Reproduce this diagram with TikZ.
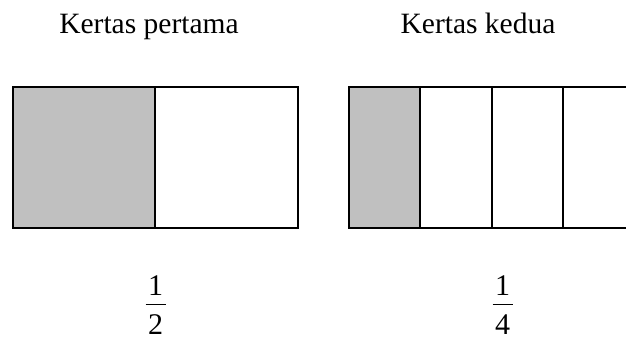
\documentclass[tikz,border=0pt]{standalone}
\usepackage{fontspec}
\setmainfont{Liberation Serif}
\begin{document}
\begin{tikzpicture}[x=1pt,y=-1pt,
  sheet/.style={draw=black,line width=1.8pt},
  shaded/.style={fill=shadegrey},
  title/.style={anchor=base,inner sep=0pt,font=\fontsize{29.5}{34}\selectfont},
  digit/.style={anchor=base,inner sep=0pt,font=\fontsize{30}{34}\selectfont},
  fracbar/.style={line width=1.2pt}]
\definecolor{shadegrey}{RGB}{192,192,192}
\useasboundingbox (0,0) rectangle (626,339);
\clip (0,0) rectangle (626,339);

% titles
\node[title] (t1) at (149,33.3) {Kertas pertama};
\node[title] (t2) at (478,33.3) {Kertas kedua};

% first sheet: halves
\fill[shaded] (13,87) rectangle (155,228);
\draw[sheet] (13,87) rectangle (298,228);
\draw[sheet] (155,87) -- (155,228);

% second sheet: quarters
\fill[shaded] (349,87) rectangle (420,228);
\draw[sheet] (349,87) rectangle (634,228);
\foreach \xx in {420,492,563}
  \draw[sheet] (\xx,87) -- (\xx,228);

% fraction one half
\node[digit] (n1) at (155.5,295) {1};
\node[digit] (d1) at (155.5,334.5) {2};
\coordinate (b1l) at (145.5,304.5);
\coordinate (b1r) at (165.5,304.5);
\draw[fracbar] (b1l) -- (b1r);

% fraction one quarter
\node[digit] (n2) at (502.5,295) {1};
\node[digit] (d2) at (502.5,334.5) {4};
\coordinate (b2l) at (492.5,304.5);
\coordinate (b2r) at (512.5,304.5);
\draw[fracbar] (b2l) -- (b2r);
\end{tikzpicture}
\end{document}
